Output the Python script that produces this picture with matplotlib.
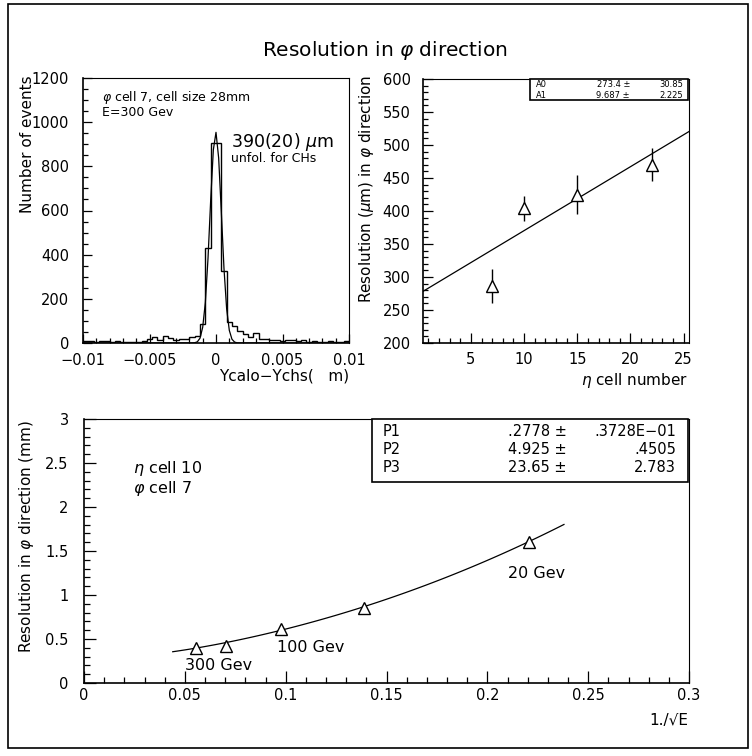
import numpy as np
import matplotlib
matplotlib.use("Agg")
import matplotlib.pyplot as plt
from matplotlib.patches import Rectangle
from matplotlib.ticker import MultipleLocator

plt.rcParams['font.family'] = ['DejaVu Sans']
plt.rcParams['mathtext.fontset'] = 'dejavusans'

W, H = 752, 756

# ---------------- data ----------------
# Histogram (top-left): 50 bins of 0.0004 from -0.01 to 0.01
hist_edges = np.linspace(-0.01, 0.01, 51)
hist_counts = [8, 10, 6, 8, 10, 6, 8, 4, 6, 5,
               6, 8, 18, 25, 15, 30, 22, 12, 20, 18,
               28, 30, 85, 430, 905, 905, 325, 95, 75, 55,
               40, 25, 45, 20, 18, 12, 15, 10, 12, 15,
               8, 12, 6, 8, 4, 5, 8, 6, 4, 10]
gaus_amp, gaus_mean, gaus_sigma = 955.0, -0.00002, 0.00043

# Top-right: resolution vs eta cell
eta_cells = [7, 10, 15, 22]
eta_res = [286, 404, 425, 470]
eta_err = [26, 19, 30, 25]
A0, A0_err = 273.4, 30.85
A1, A1_err = 9.687, 2.225

# Bottom: resolution vs 1/sqrt(E)
inv_sqrtE = [0.0555, 0.0705, 0.0975, 0.139, 0.2205]
res_mm = [0.395, 0.42, 0.61, 0.855, 1.60]
P1, P1_err = 0.2778, 0.03728
P2, P2_err = 4.925, 0.4505
P3, P3_err = 23.65, 2.783

tl_xticks = [-0.01, -0.005, 0, 0.005, 0.01]
tl_xlabels = ['\u22120.01', '\u22120.005', '0', '0.005', '0.01']
tl_yticks = [0, 200, 400, 600, 800, 1000, 1200]
tr_xticks = [5, 10, 15, 20, 25]
tr_yticks = [200, 250, 300, 350, 400, 450, 500, 550, 600]
b_xticks = [0, 0.05, 0.1, 0.15, 0.2, 0.25, 0.3]
b_xlabels = ['0', '0.05', '0.1', '0.15', '0.2', '0.25', '0.3']
b_yticks = [0, 0.5, 1, 1.5, 2, 2.5, 3]
b_ylabels = ['0', '0.5', '1', '1.5', '2', '2.5', '3']


def fx(px):
    return px / W


def fy(py):
    return 1 - py / H


def axrect(l, t, r, b):
    return [fx(l), fy(b), (r - l) / W, (b - t) / H]


fig = plt.figure(figsize=(W / 100, H / 100), dpi=100)
fig.patch.set_facecolor('white')

# outer frame
fig.add_artist(Rectangle((fx(8), fy(748)), (748 - 8) / W, (748 - 4) / H,
                         transform=fig.transFigure, fill=False, lw=1.2, ec='black'))

TICKFS = 10.5


def style_axes(ax, maj, minr, padx, pady):
    for s in ['top', 'right']:
        ax.spines[s].set_linewidth(0.8)
    for s in ['left', 'bottom']:
        ax.spines[s].set_linewidth(1.2)
    ax.tick_params(which='both', direction='in', top=False, right=False, width=0.9)
    ax.tick_params(which='major', length=maj, labelsize=TICKFS)
    ax.tick_params(which='minor', length=minr)
    ax.tick_params(axis='x', pad=padx)
    ax.tick_params(axis='y', pad=pady)


# ---------------- top-left histogram ----------------
ax1 = fig.add_axes(axrect(83, 78, 349, 343))
ax1.stairs(hist_counts, hist_edges, color='black', lw=1.0)
xg = np.linspace(-0.01, 0.01, 101)
ax1.plot(xg, gaus_amp * np.exp(-0.5 * ((xg - gaus_mean) / gaus_sigma) ** 2),
         color='black', lw=0.9)
ax1.set_xlim(-0.01, 0.01)
ax1.set_ylim(0, 1200)
ax1.set_xticks(tl_xticks)
ax1.set_xticklabels(tl_xlabels)
ax1.set_yticks(tl_yticks)
ax1.xaxis.set_minor_locator(MultipleLocator(0.001))
ax1.yaxis.set_minor_locator(MultipleLocator(50))
style_axes(ax1, 6.5, 3.3, 7, 10)

# ---------------- top-right ----------------
ax2 = fig.add_axes(axrect(423, 79, 689, 343))
xl = np.array([0.5, 25.5])
ax2.plot(xl, A0 + A1 * xl, color='black', lw=0.9)
ax2.errorbar(eta_cells, eta_res, yerr=eta_err, fmt='^', ms=9, mfc='white',
             mec='black', mew=1.0, ecolor='black', elinewidth=1.0, capsize=0, zorder=3)
ax2.set_xlim(0.5, 25.5)
ax2.set_ylim(200, 600)
ax2.set_xticks(tr_xticks)
ax2.set_yticks(tr_yticks)
ax2.xaxis.set_minor_locator(MultipleLocator(1))
ax2.yaxis.set_minor_locator(MultipleLocator(10))
style_axes(ax2, 7, 3.5, 6.5, 9)

# ---------------- bottom ----------------
ax3 = fig.add_axes(axrect(84, 419, 689, 683))
xc = np.linspace(0.044, 0.238, 100)
ax3.plot(xc, np.sqrt(P1 ** 2 + (P2 * xc) ** 2 + (P3 * xc ** 2) ** 2), color='black', lw=0.9)
ax3.plot(inv_sqrtE, res_mm, '^', ms=9, mfc='white', mec='black', mew=1.0, ls='none', zorder=3)
ax3.set_xlim(0, 0.3)
ax3.set_ylim(0, 3)
ax3.set_xticks(b_xticks)
ax3.set_xticklabels(b_xlabels)
ax3.set_yticks(b_yticks)
ax3.set_yticklabels(b_ylabels)
ax3.xaxis.set_minor_locator(MultipleLocator(0.01))
ax3.yaxis.set_minor_locator(MultipleLocator(0.1))
style_axes(ax3, 8.5, 4.3, 3.5, 11)

# ---------------- texts ----------------
fig.text(fx(385), fy(51), r'Resolution in $\varphi$ direction', ha='center', va='center', fontsize=14.5)

# axis labels
fig.text(fx(27), fy(75), 'Number of events', rotation=90, ha='center', va='top', fontsize=11)
fig.text(fx(349), fy(376), 'Ycalo\u2212Ychs(   m)', ha='right', va='center', fontsize=11)
fig.text(fx(367), fy(75), r'Resolution ($\mu$m) in $\varphi$ direction', rotation=90,
         ha='center', va='top', fontsize=11)
fig.text(fx(688), fy(380), r'$\eta$ cell number', ha='right', va='center', fontsize=11)
fig.text(fx(27), fy(420), r'Resolution in $\varphi$ direction (mm)', rotation=90,
         ha='center', va='top', fontsize=11)
fig.text(fx(688), fy(720), '1./\u221aE', ha='right', va='center', fontsize=11)

# top-left annotations
fig.text(fx(102), fy(97), r'$\varphi$ cell 7, cell size 28mm', ha='left', va='center', fontsize=9)
fig.text(fx(102), fy(112), 'E=300 Gev', ha='left', va='center', fontsize=9)
fig.text(fx(231), fy(142), r'390(20) $\mu$m', ha='left', va='center', fontsize=12.5)
fig.text(fx(231), fy(158), 'unfol. for CHs', ha='left', va='center', fontsize=9)

# top-right stats box
fig.add_artist(Rectangle((fx(530), fy(100)), (688 - 530) / W, (100 - 79) / H,
                         transform=fig.transFigure, fill=True, fc='white', lw=1.2, ec='black', zorder=5))
for i, (nm, v, e) in enumerate([('A0', A0, A0_err), ('A1', A1, A1_err)]):
    yy = fy(84.5 + i * 10.5)
    fig.text(fx(536), yy, nm, ha='left', va='center', fontsize=6, zorder=6)
    fig.text(fx(630), yy, f'{v:g} \u00b1', ha='right', va='center', fontsize=6, zorder=6)
    fig.text(fx(683), yy, f'{e:g}', ha='right', va='center', fontsize=6, zorder=6)

# bottom stats box
fig.add_artist(Rectangle((fx(372), fy(482)), (688 - 372) / W, (482 - 419) / H,
                         transform=fig.transFigure, fill=True, fc='white', lw=1.2, ec='black', zorder=5))
rows = [('P1', '.2778 \u00b1', '.3728E\u221201'),
        ('P2', '4.925 \u00b1', '.4505'),
        ('P3', '23.65 \u00b1', '2.783')]
for i, (nm, v, e) in enumerate(rows):
    yy = fy(432 + i * 18)
    fig.text(fx(383), yy, nm, ha='left', va='center', fontsize=10.5, zorder=6)
    fig.text(fx(567), yy, v, ha='right', va='center', fontsize=10.5, zorder=6)
    fig.text(fx(676), yy, e, ha='right', va='center', fontsize=10.5, zorder=6)

# bottom annotations
fig.text(fx(133), fy(468), r'$\eta$ cell 10', ha='left', va='center', fontsize=11.5)
fig.text(fx(133), fy(489), r'$\varphi$ cell 7', ha='left', va='center', fontsize=11.5)
fig.text(fx(185), fy(666), '300 Gev', ha='left', va='center', fontsize=11.5)
fig.text(fx(277), fy(648), '100 Gev', ha='left', va='center', fontsize=11.5)
fig.text(fx(508), fy(573), '20 Gev', ha='left', va='center', fontsize=11.5)

fig.savefig('out.png', dpi=100, facecolor='white')
